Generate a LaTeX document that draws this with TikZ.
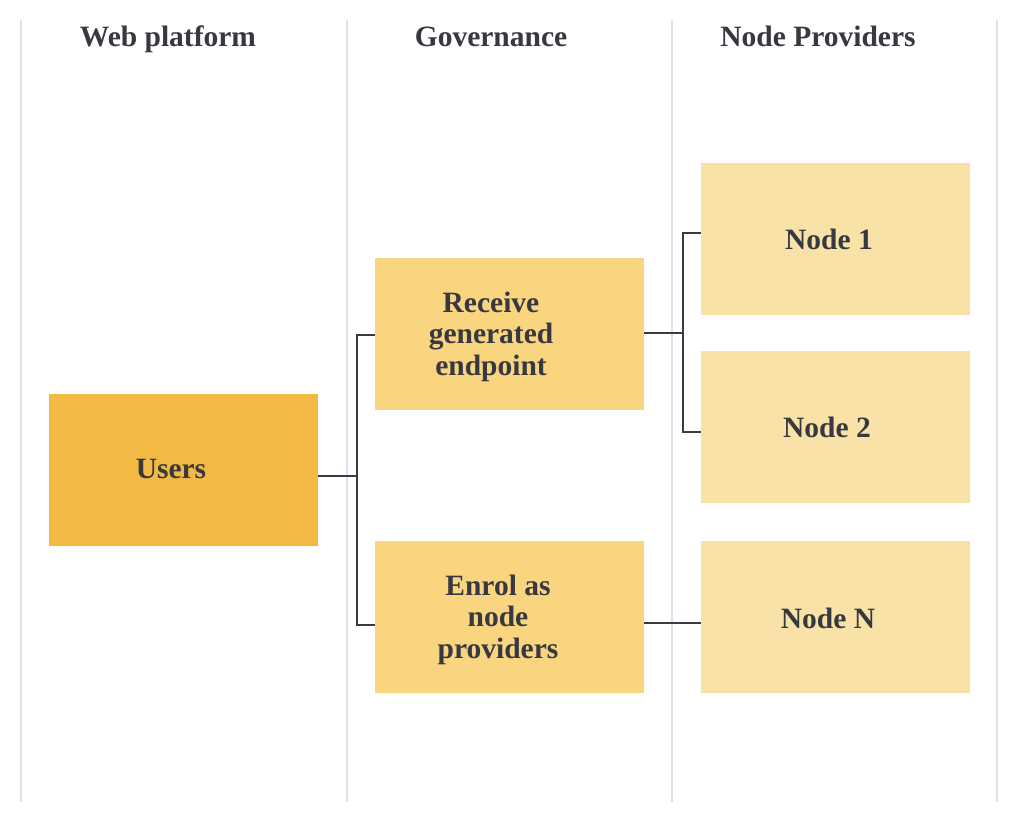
\documentclass[tikz,border=0pt]{standalone}
\usepackage{fontspec}
\setmainfont{Liberation Serif}
\definecolor{sep}{HTML}{DDE1E7}
\definecolor{ink}{HTML}{383841}
\definecolor{usr}{HTML}{F2BA42}
\definecolor{gov}{HTML}{F8D57E}
\definecolor{prov}{HTML}{F8E2A8}
\definecolor{wire}{HTML}{3A3A45}
\begin{document}
\begin{tikzpicture}[x=1pt,y=-1pt,
  lane/.style={draw=sep,line width=1.5pt},
  box/.style={draw=none,minimum width=269pt,minimum height=152pt,inner sep=0pt},
  lbl/.style={text=ink,font=\bfseries\fontsize{29.5}{31.5}\selectfont,align=center,inner sep=0pt,anchor=base},
  head/.style={text=ink,font=\bfseries\fontsize{29.5}{32}\selectfont,inner sep=0pt,anchor=base},
  wireline/.style={draw=wire,line width=1.5pt}]
\useasboundingbox (0,0) rectangle (1024,825);
\fill[white] (0,0) rectangle (1024,825);
% lanes
\draw[lane] (21,20) -- (21,802);
\draw[lane] (347,20) -- (347,802);
\draw[lane] (672,20) -- (672,802);
\draw[lane] (997,20) -- (997,802);
% headings
\node[head] (h1) at (168,46.5) {Web platform};
\node[head] (h2) at (491,46.5) {Governance};
\node[head] (h3) at (818,46.5) {Node Providers};
% boxes
\node[box,fill=usr] (users) at (183.5,470) {};
\node[box,fill=gov] (recv) at (509.5,334) {};
\node[box,fill=gov] (enrol) at (509.5,616.5) {};
\node[box,fill=prov] (n1) at (835.5,239) {};
\node[box,fill=prov] (n2) at (835.5,427) {};
\node[box,fill=prov] (nn) at (835.5,616.5) {};
% labels
\node[lbl] (tu) at (171,478) {Users};
\node[lbl] (tr) at (491,375) {Receive\\generated\\endpoint};
\node[lbl] (te) at (498,658) {Enrol as\\node\\providers};
\node[lbl] (t1) at (829,249) {Node 1};
\node[lbl] (t2) at (827,437) {Node 2};
\node[lbl] (tn) at (828,628) {Node N};
% connectors
\coordinate (j1) at (357,476);
\coordinate (j2) at (683,333);
\draw[wireline] (users.east |- j1) -- (j1);
\draw[wireline] (recv.west |- 0,335) -| (j1) |- (enrol.west |- 0,625);
\draw[wireline] (recv.east |- j2) -- (j2);
\draw[wireline] (n1.west |- 0,233) -| (j2) |- (n2.west |- 0,432);
\draw[wireline] (enrol.east |- 0,623) -- (nn.west |- 0,623);
\end{tikzpicture}
\end{document}
